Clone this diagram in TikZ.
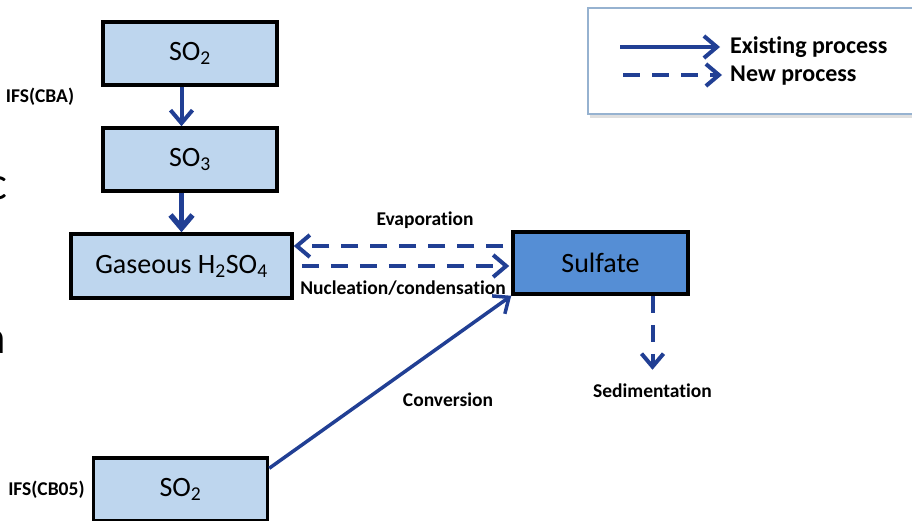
\documentclass[tikz,border=0pt]{standalone}
\usepackage{fontspec}
\setmainfont{Carlito}[Ligatures=NoCommon]
\usepackage{xcolor}
\usetikzlibrary{positioning, arrows.meta, calc}

\definecolor{flowblue}{RGB}{33,63,148}
\definecolor{boxlight}{RGB}{190,214,238}
\definecolor{boxdark}{RGB}{85,142,213}
\definecolor{legendedge}{RGB}{150,178,208}

\begin{document}
\begin{tikzpicture}[
        x=1pt, y=-1pt,
        species/.style={rectangle, draw=black, line width=3.5pt, fill=boxlight, minimum width=174pt, minimum height=63pt, inner sep=0pt, font=\fontsize{28}{30}\selectfont},
        product/.style={species, fill=boxdark},
        tag/.style={font=\fontsize{19.5}{21}\selectfont\bfseries, inner sep=1pt},
        legendtext/.style={font=\fontsize{24}{26}\selectfont\bfseries, anchor=west, inner sep=0pt},
        existing/.style={draw=flowblue, line width=4pt, -{Straight Barb[length=13pt, width=22pt]}},
        newproc/.style={existing, dash pattern=on 17pt off 12pt},
    ]
    \useasboundingbox (0,0) rectangle (912,521);
    % stray slide text cut at the left edge
    \node[font=\fontsize{47}{50}\selectfont, anchor=base east, inner sep=0pt] (cutc) at (8,200) {c};
    \node[font=\fontsize{47}{50}\selectfont, anchor=base east, inner sep=0pt] (cuta) at (6,353) {a};
    % legend
    \fill[gray!25] (590,11) rectangle (916,118);
    \draw[legendedge, line width=1.5pt, fill=white] (588,8) rectangle (916,114);
    \node[legendtext] (legexist) at (730,47) {Existing process};
    \node[legendtext] (legnew) at (730,76) {New process};
    \coordinate (legexiststart) at (620,47);
    \coordinate (legnewstart) at (623,75);
    \draw[existing] (legexiststart) -- ([xshift=-10pt]legexist.west);
    \draw[newproc] (legnewstart) -- ([xshift=-8pt]legnew.west |- legnewstart);
    % species boxes
    \node[species] (so2a) at (190,53.5) {SO\textsubscript{2}};
    \node[species] (so3) at (190,159.5) {SO\textsubscript{3}};
    \node[species, minimum width=221pt, minimum height=64pt] (h2so4) at (181.5,266) {Gaseous H\textsubscript{2}SO\textsubscript{4}};
    \node[product, minimum width=175pt, minimum height=62pt] (sulfate) at (600.5,263) {Sulfate};
    \node[species] (so2b) at (180.5,489.5) {SO\textsubscript{2}};
    \node[tag] (cba) at (40,97) {IFS(CBA)};
    \node[tag, left=6pt of so2b] (cb05) {IFS(CB05)};
    % existing processes
    \draw[existing] (so2a.south -| h2so4.north) -- (so3.north -| h2so4.north);
    \draw[existing, line width=5.5pt] (so3.south -| h2so4.north) -- (h2so4.north);
    \draw[existing, line width=3.5pt] ([yshift=-12pt]so2b.north east) -- (sulfate.south west);
    % new processes
    \coordinate (evapstart) at ([xshift=-8pt, yshift=17pt]sulfate.west);
    \coordinate (nuclstart) at ([xshift=8pt]h2so4.east);
    \draw[newproc] (evapstart) -- (evapstart -| h2so4.east);
    \draw[newproc, shorten >=2pt] (nuclstart) -- (nuclstart -| sulfate.west);
    \coordinate (sedstart) at ([xshift=52pt]sulfate.south);
    \coordinate (sedtip) at ([yshift=-74pt]sedstart);
    \draw[newproc] (sedstart) -- (sedtip);
    % process labels
    \node[tag] (evap) at (425,220) {Evaporation};
    \node[tag] (nucl) at (403,288) {Nucleation/condensation};
    \node[tag] (conv) at (448,400) {Conversion};
    \node[tag, below=13pt of sedtip] (sed) {Sedimentation};
\end{tikzpicture}
\end{document}
